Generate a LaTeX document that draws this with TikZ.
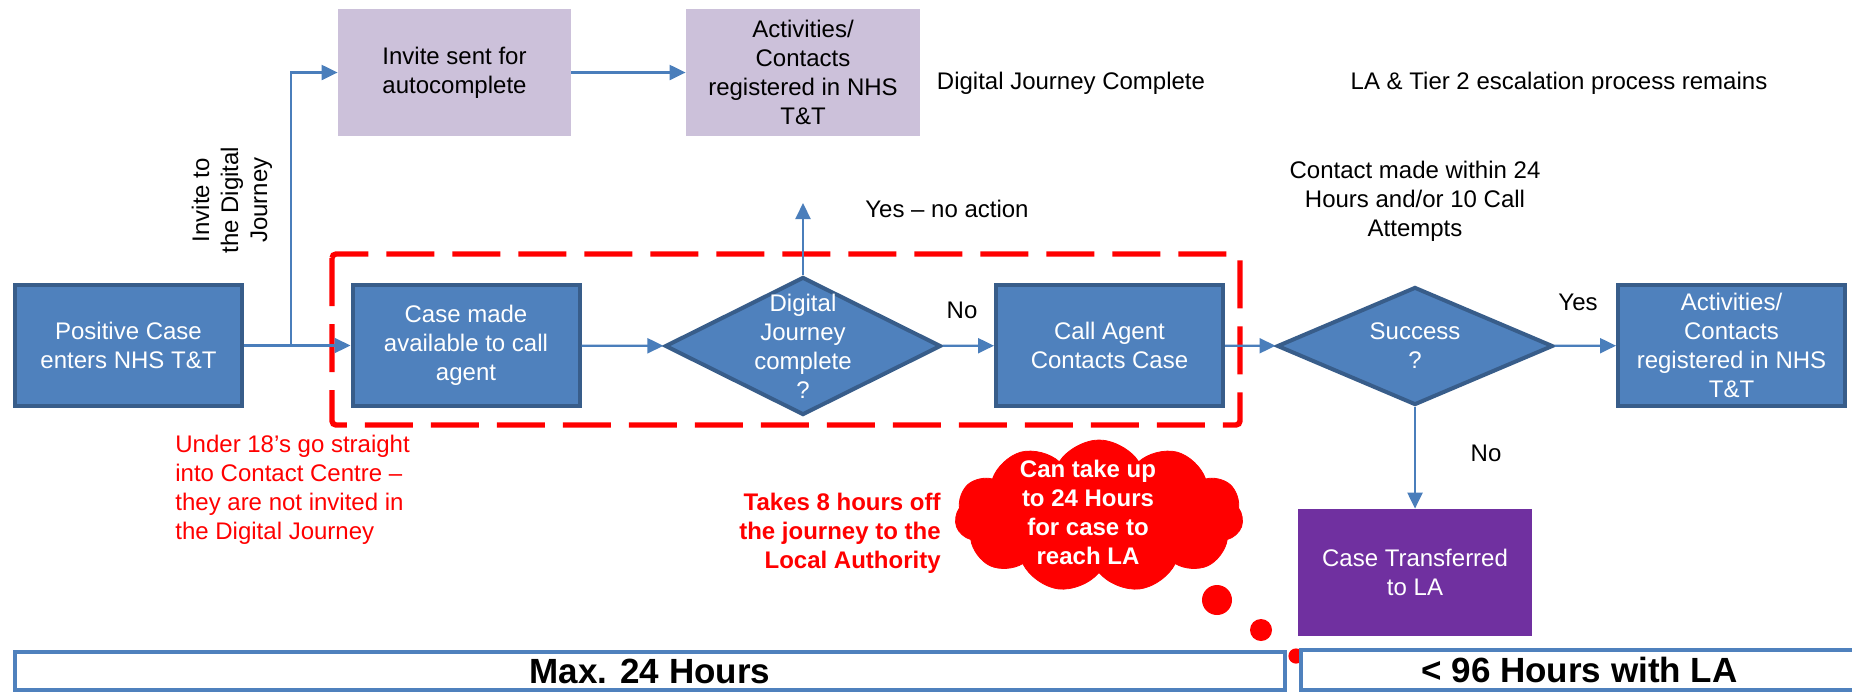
\documentclass[tikz,border=0pt]{standalone}
\usepackage{fontspec}
\setmainfont{Liberation Sans}
\usetikzlibrary{shapes.geometric, shapes.symbols, arrows.meta, positioning, calc}

\definecolor{boxblue}{HTML}{4F81BD}
\definecolor{boxedge}{HTML}{385D8A}
\definecolor{flowblue}{HTML}{4A7EBB}
\definecolor{lilac}{HTML}{CCC1DA}
\definecolor{lapurple}{HTML}{7030A0}
\newcommand{\nodefont}{\fontsize{12}{14.5}\selectfont}
\newcommand{\barfont}{\fontsize{17.5}{20}\selectfont\bfseries}

\begin{document}
\begin{tikzpicture}[x=0.5pt, y=-0.5pt,
        every node/.style={font=\nodefont},
        bluebox/.style={draw=boxedge, line width=2pt, fill=boxblue, text=white, align=center,
            minimum width=113.5pt, minimum height=60.5pt, inner sep=0pt},
        lilacbox/.style={fill=lilac, align=center, minimum width=116.5pt, minimum height=63.5pt, inner sep=0pt},
        decision/.style={diamond, draw=boxedge, line width=2pt, fill=boxblue, inner sep=0pt},
        flow/.style={draw=flowblue, line width=1.1pt, -{Triangle[length=8pt,width=7.5pt]}},
        dashbox/.style={draw=red, line width=2.7pt, dash pattern=on 24pt off 9pt, rounded corners=2pt},
        timebar/.style={draw=boxblue, line width=2pt, fill=white, inner sep=0pt, font=\barfont}
    ]
    \useasboundingbox (0,0) rectangle (1852,693);

    % Contact centre window
    \draw[dashbox] (332,254) rectangle (1240,425);

    % Main path
    \node[bluebox] (positive) at (128.5,345.5) {Positive Case\\enters NHS T\&T};
    \node[bluebox] (avail) at (466,345.5) {Case made\\available to call\\agent};
    \node[decision, minimum width=138pt, minimum height=69pt] (djq) at (803,346) {};
    \node[text=white, align=center] (djqtext) at (djq) {Digital\\Journey\\complete\\?};
    \node[bluebox] (callagent) at (1109.5,345.5) {Call Agent\\Contacts Case};
    \node[decision, minimum width=138pt, minimum height=59pt] (success) at (1415,346) {};
    \node[text=white, align=center] (successtext) at (success) {Success\\?};
    \node[bluebox] (actnhs) at (1731.5,345.5) {Activities/\\Contacts\\registered in NHS\\T\&T};
    \node[fill=lapurple, text=white, align=center, minimum width=117pt, minimum height=63.5pt,
        inner sep=0pt] (transfer) at (1415,572.5) {Case Transferred\\to LA};

    % Digital journey
    \node[lilacbox] (invite) at (454.5,72.5) {Invite sent for\\autocomplete};
    \node[lilacbox, minimum width=117pt] (actdig) at (803,72.5) {Activities/\\Contacts\\registered in NHS\\T\&T};
    \node (djdone) at (1071,83) {Digital Journey Complete};
    \node (tiertwo) at (1559,83) {LA \& Tier 2 escalation process remains};
    \node[rotate=90, align=center] (invitelbl) at (232,200) {Invite to\\the Digital\\Journey};

    % Connectors
    \coordinate (split) at (291,345.5);
    \coordinate (yesend) at (803,203);
    \draw[flow] (positive) -- (avail);
    \draw[flow] (split) |- (invite);
    \draw[flow] (invite) -- (actdig);
    \draw[flow] (avail) -- (djq);
    \draw[flow] (djq) -- (yesend);
    \draw[flow] (djq) -- (callagent);
    \draw[flow] (callagent) -- (success);
    \draw[flow] (success) -- (actnhs);
    \draw[flow] (success) -- (transfer);

    % Labels
    \node (yesnoaction) at (947,209) {Yes – no action};
    \node (nodj) at (962,310) {No};
    \node (yessuccess) at (1578,302) {Yes};
    \node (nosuccess) at (1486,453) {No};
    \node[align=center] (attempts) at (1415,201) {Contact made within 24\\Hours and/or 10 Call\\Attempts};

    % Notes in red
    \node[text=red, align=left, anchor=west, inner sep=0pt] (under18) at (175,490)
        {Under 18’s go straight\\into Contact Centre –\\they are not invited in\\the Digital Journey};
    \node[text=red, align=right, anchor=east, inner sep=0pt, font=\nodefont\bfseries] (eighthours) at (941,533)
        {Takes 8 hours off\\the journey to the\\Local Authority};

    % Thought cloud
    \node[cloud, cloud puffs=11, cloud puff arc=115, fill=red, draw=red, inner sep=0pt,
        minimum width=144pt, minimum height=76pt] (cloud) at (1099,516) {};
    \node[text=white, align=center, font=\nodefont\bfseries] (cloudtext) at (1088,512)
        {Can take up\\to 24 Hours\\for case to\\reach LA};
    \fill[red] (1217,600) circle (7.5pt);
    \fill[red] (1261,630) circle (5.5pt);
    \fill[red] (1296,656) circle (3.8pt);

    % Time bars
    \node[timebar, minimum width=635pt, minimum height=19pt] (maxbar) at (650,671) {Max. 24 Hours};
    \node[timebar, minimum width=278.5pt, minimum height=20pt] (labar) at (1579.5,670) {< 96 Hours with LA};
\end{tikzpicture}
\end{document}
